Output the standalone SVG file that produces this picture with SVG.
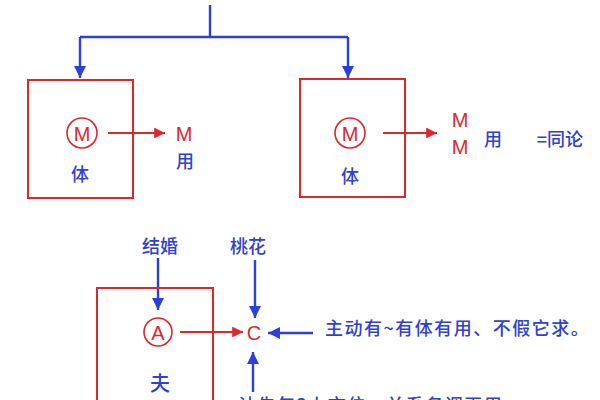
<svg xmlns="http://www.w3.org/2000/svg" width="600" height="400" viewBox="0 0 600 400">
<style>
.box{fill:none;stroke:#e0262c;stroke-width:2}
.bl{stroke:#2c3fd8;stroke-width:2.4;fill:none}
.rl{stroke:#e0262c;stroke-width:1.8;fill:none}
.circ{fill:none;stroke:#e0262c;stroke-width:1.6}
.tb{font-family:"Noto Sans CJK SC","Noto Sans",sans-serif;fill:#3040d0;font-size:18px;font-weight:500;text-anchor:middle;dominant-baseline:central}
.tr{font-family:"Liberation Sans","Noto Sans",sans-serif;fill:#e0262c;font-size:20px;text-anchor:middle;dominant-baseline:central}
.tl{font-family:"Noto Sans CJK SC","Noto Sans",sans-serif;fill:#3040d0;font-size:18px;font-weight:500;letter-spacing:1.5px}
</style>
<defs>
<marker id="ab" viewBox="0 0 10 10" refX="10" refY="5" markerWidth="5" markerHeight="5" orient="auto"><path d="M0,0 L10,5 L0,10 z" fill="#2c3fd8"/></marker>
<marker id="ar" viewBox="0 0 10 10" refX="10" refY="5" markerWidth="6" markerHeight="6" orient="auto"><path d="M0,0 L10,5 L0,10 z" fill="#e0262c"/></marker>
</defs>
<rect width="600" height="400" fill="#fff"/>
<g id="connectors">
<path class="bl" d="M210,5 V37"/>
<path class="bl" d="M80,37 H348"/>
<path class="bl" d="M80,37 V78" marker-end="url(#ab)"/>
<path class="bl" d="M348,37 V78" marker-end="url(#ab)"/>
<path class="rl" d="M108,133 H165" marker-end="url(#ar)"/>
<path class="rl" d="M383,133 H437" marker-end="url(#ar)"/>
<path class="bl" d="M158,258 V310" marker-end="url(#ab)"/>
<path class="bl" d="M255,260 V318" marker-end="url(#ab)"/>
<path class="rl" d="M180,332 H243" marker-end="url(#ar)"/>
<path class="bl" d="M313,333 H268" marker-end="url(#ab)"/>
<path class="bl" d="M253,392 V352" marker-end="url(#ab)"/>
</g>
<g id="node-left">
<rect class="box" x="28" y="80" width="105" height="118"/>
<circle class="circ" cx="82" cy="133" r="15"/>
<text class="tr" x="82" y="134">M</text>
<text class="tb" x="80" y="173">体</text>
</g>
<g id="node-left-out">
<text class="tr" x="184" y="134">M</text>
<text class="tb" x="185" y="160">用</text>
</g>
<g id="node-right">
<rect class="box" x="300" y="79" width="105" height="118"/>
<circle class="circ" cx="350" cy="133" r="15"/>
<text class="tr" x="350" y="134">M</text>
<text class="tb" x="350" y="175">体</text>
</g>
<g id="node-right-out">
<text class="tr" x="460" y="120">M</text>
<text class="tr" x="460" y="147">M</text>
<text class="tb" x="493" y="138">用</text>
<text class="tb" x="560" y="138">=同论</text>
</g>
<g id="node-jiehun"><text class="tb" x="160" y="245">结婚</text></g>
<g id="node-taohua"><text class="tb" x="248" y="245">桃花</text></g>
<g id="node-fu">
<rect class="box" x="97" y="288" width="116" height="140"/>
<circle class="circ" cx="158" cy="332" r="14"/>
<text class="tr" x="158" y="333">A</text>
<text class="tb" x="160" y="382" style="font-size:20px">夫</text>
</g>
<g id="node-c"><text class="tr" x="254" y="333">C</text></g>
<g id="node-note"><text class="tl" x="325" y="335">主动有~有体有用、不假它求。</text></g>
<g id="node-bottom"><text class="tl" x="238" y="412">认先年3上市位、关系务调再用</text></g>
</svg>
